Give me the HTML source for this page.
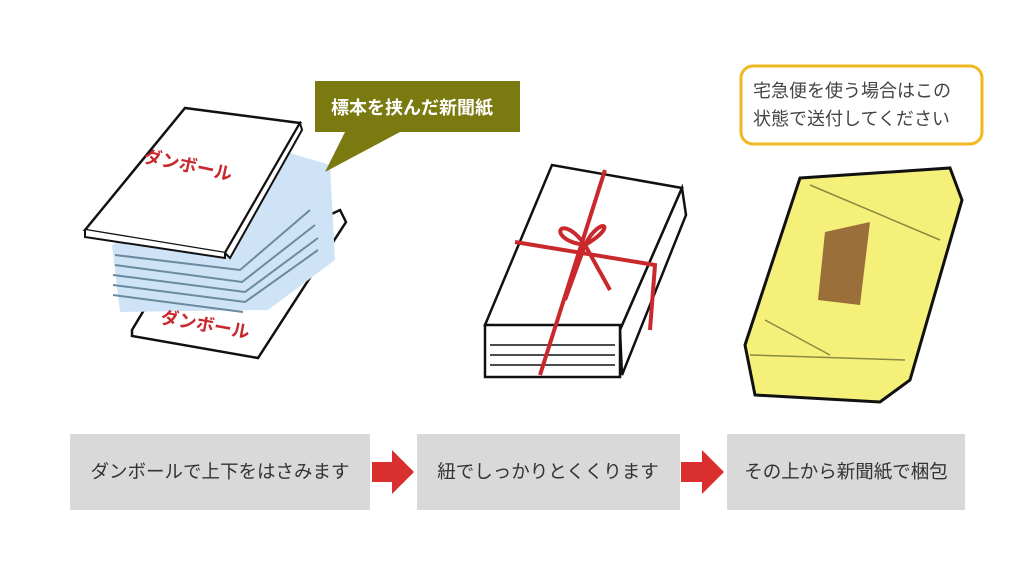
<!DOCTYPE html>
<html><head><meta charset="utf-8"><style>
body{margin:0;background:#fff;}
svg{display:block}
text{font-family:"Liberation Sans","Noto Sans CJK JP",sans-serif;}
</style></head><body>
<svg width="1024" height="576" viewBox="0 0 1024 576" xmlns="http://www.w3.org/2000/svg">
<rect width="1024" height="576" fill="#fff"/>
<!-- Left illustration -->
<polygon points="132,330 150,300 340,210 346,222 258,358 132,336" fill="#fff" stroke="#111" stroke-width="2.5"/>
<path d="M112,245 L280,150 L330,165 L335,260 L268,310 L120,312 Z" fill="#cfe3f7" stroke="none"/>
<g stroke="#6a8aa0" stroke-width="2" fill="none">
<path d="M115,255 L240,270 L310,210"/><path d="M115,265 L242,282 L315,225"/><path d="M113,275 L245,292 L318,238"/><path d="M113,285 L245,302 L318,250"/><path d="M113,295 L243,312"/>
</g>
<polygon points="85,230 185,108 300,123 225,253" fill="#fff" stroke="#111" stroke-width="2.5"/>
<polygon points="225,253 300,123 302,130 230,258" fill="#fff" stroke="#111" stroke-width="2"/>
<path d="M85,230 L85,237 L225,258 L225,253" fill="#fff" stroke="#111" stroke-width="2"/>
<text x="142" y="172" font-size="18" font-weight="bold" fill="#c9282d" transform="rotate(12 190 170)">ダンボール</text>
<text x="160" y="330" font-size="18" font-weight="bold" fill="#c9282d" transform="rotate(10 200 325)">ダンボール</text>
<!-- callout -->
<polygon points="315,81 520,81 520,132 400,132 325,172 345,132 315,132" fill="#7b7a10"/>
<text x="331" y="114" font-size="18" font-weight="bold" fill="#fff">標本を挟んだ新聞紙</text>
<!-- middle bundle -->
<polygon points="485,325 552,165 682,188 620,330" fill="#fff" stroke="#111" stroke-width="2.5"/>
<polygon points="620,330 682,188 686,215 622,375" fill="#fff" stroke="#111" stroke-width="2.5"/>
<rect x="485" y="325" width="135" height="52" fill="#fff" stroke="#111" stroke-width="2.5"/>
<g stroke="#111" stroke-width="1.5"><line x1="490" y1="345" x2="615" y2="345"/><line x1="490" y1="355" x2="615" y2="355"/><line x1="490" y1="365" x2="615" y2="365"/></g>
<g stroke="#c9282d" stroke-width="4" fill="none">
<path d="M605,170 L540,375"/><path d="M515,242 L655,265 L650,330"/><path d="M585,245 C560,210 545,240 585,245 C600,215 620,225 585,245"/><path d="M585,245 L565,300"/><path d="M585,245 L610,290"/>
</g>
<!-- right package -->
<path d="M800,178 L950,168 L962,200 L910,380 L880,402 L755,395 L745,345 Z" fill="#f5f07a" stroke="#111" stroke-width="3"/>
<g stroke="#8a8a40" stroke-width="1.5" fill="none"><path d="M750,355 L905,360"/><path d="M810,185 L940,240"/><path d="M765,320 L830,355"/></g>
<polygon points="825,232 870,222 860,305 818,300" fill="#9b6f3a"/>
<!-- yellow callout -->
<rect x="741" y="66" width="241" height="78" rx="12" fill="#fff" stroke="#f0b820" stroke-width="3"/>
<text x="753" y="97" font-size="18" fill="#444">宅急便を使う場合はこの</text>
<text x="753" y="125" font-size="18" fill="#444">状態で送付してください</text>
<!-- bottom boxes -->
<rect x="70" y="434" width="300" height="76" fill="#d9d9d9"/>
<text x="220" y="478" font-size="18.5" fill="#333" text-anchor="middle">ダンボールで上下をはさみます</text>
<rect x="417" y="434" width="263" height="76" fill="#d9d9d9"/>
<text x="548" y="478" font-size="18.5" fill="#333" text-anchor="middle">紐でしっかりとくくります</text>
<rect x="727" y="434" width="238" height="76" fill="#d9d9d9"/>
<text x="846" y="478" font-size="18.5" fill="#333" text-anchor="middle">その上から新聞紙で梱包</text>
<polygon points="372,462 392,462 392,450 414,472 392,494 392,482 372,482" fill="#d9302f"/>
<polygon points="681,462 702,462 702,450 724,472 702,494 702,482 681,482" fill="#d9302f"/>
</svg>
</body></html>
